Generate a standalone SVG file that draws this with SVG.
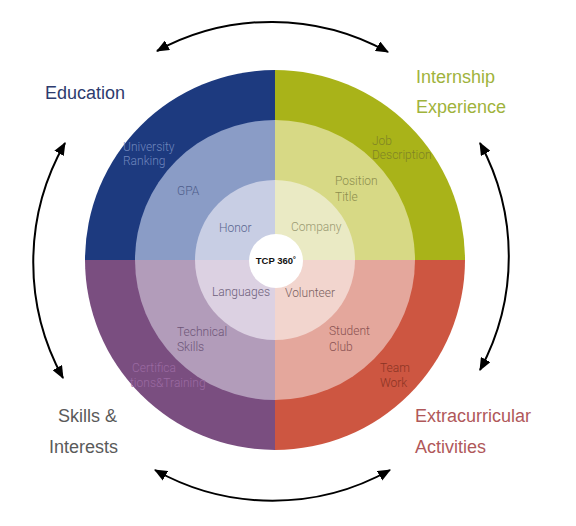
<svg xmlns="http://www.w3.org/2000/svg" width="576" height="526" viewBox="0 0 576 526">
<style>
.lbl{font-family:Roboto,"Liberation Sans",sans-serif;font-size:12px;font-weight:300}
.big{font-family:"Liberation Sans",Arial,sans-serif;font-size:18px}
.arc{fill:none;stroke:#000;stroke-width:2}
</style>
<defs>
<marker id="ah" viewBox="0 0 12 10" refX="11" refY="5" markerWidth="13" markerHeight="11" markerUnits="userSpaceOnUse" orient="auto-start-reverse">
<path d="M0,0 L12,5 L0,10 z" fill="#000"/>
</marker>
</defs>
<rect width="576" height="526" fill="#fff"/>
<g id="education">
<path d="M275,260 L85,260 A190,190 0 0 1 275,70 Z" fill="#1d3a7f"/>
<path d="M275,260 L135,260 A140,140 0 0 1 275,120 Z" fill="#8a9cc6"/>
<path d="M275,260 L195,260 A80,80 0 0 1 275,180 Z" fill="#c8cee4"/>
<text class="lbl" fill="#6f86bd"><tspan x="123" y="151">University</tspan><tspan x="123" y="165">Ranking</tspan></text>
<text class="lbl" x="177" y="195" fill="#4f5e8c">GPA</text>
<text class="lbl" x="219" y="232" fill="#5a6690">Honor</text>
<text class="big" x="45" y="99" fill="#2d3b6e">Education</text>
</g>
<g id="internship">
<path d="M275,260 L275,70 A190,190 0 0 1 465,260 Z" fill="#a9b319"/>
<path d="M275,260 L275,120 A140,140 0 0 1 415,260 Z" fill="#d7d985"/>
<path d="M275,260 L275,180 A80,80 0 0 1 355,260 Z" fill="#eaeac4"/>
<text class="lbl" fill="#7f8325"><tspan x="372" y="145">Job</tspan><tspan x="372" y="159">Description</tspan></text>
<text class="lbl" fill="#8d8e4e"><tspan x="335" y="185">Position</tspan><tspan x="335" y="201">Title</tspan></text>
<text class="lbl" x="291" y="231" fill="#9a9a72">Company</text>
<text class="big" fill="#9fb33c"><tspan x="416" y="83">Internship</tspan><tspan x="416" y="113">Experience</tspan></text>
</g>
<g id="skills">
<path d="M275,260 L275,450 A190,190 0 0 1 85,260 Z" fill="#7a4e80"/>
<path d="M275,260 L275,400 A140,140 0 0 1 135,260 Z" fill="#b29cba"/>
<path d="M275,260 L275,340 A80,80 0 0 1 195,260 Z" fill="#dcd1e2"/>
<text class="lbl" x="212" y="296" fill="#6d607a">Languages</text>
<text class="lbl" fill="#6d5578"><tspan x="177" y="336">Technical</tspan><tspan x="177" y="351">Skills</tspan></text>
<text class="lbl" fill="#9a6aa2"><tspan x="132" y="372">Certifica</tspan><tspan x="130" y="387">tions&amp;Training</tspan></text>
<text class="big" fill="#5a5a5a"><tspan x="58" y="422">Skills &amp;</tspan><tspan x="49" y="453">Interests</tspan></text>
</g>
<g id="extracurricular">
<path d="M275,260 L465,260 A190,190 0 0 1 275,450 Z" fill="#cd5641"/>
<path d="M275,260 L415,260 A140,140 0 0 1 275,400 Z" fill="#e4a79c"/>
<path d="M275,260 L355,260 A80,80 0 0 1 275,340 Z" fill="#f2d5ce"/>
<text class="lbl" x="285" y="297" fill="#7a5f5f">Volunteer</text>
<text class="lbl" fill="#8a5252"><tspan x="329" y="335">Student</tspan><tspan x="329" y="351">Club</tspan></text>
<text class="lbl" fill="#8a3424"><tspan x="380" y="372">Team</tspan><tspan x="380" y="387">Work</tspan></text>
<text class="big" fill="#b0585a"><tspan x="415" y="422">Extracurricular</tspan><tspan x="415" y="453">Activities</tspan></text>
</g>
<g id="center">
<circle cx="276" cy="261" r="27" fill="#fff"/>
<text x="276" y="264" text-anchor="middle" font-family="'Liberation Sans',Arial,sans-serif" font-size="9.5" font-weight="bold" fill="#111">TCP 360˚</text>
</g>
<g id="connectors">
<path class="arc" d="M157,51 A240,240 0 0 1 388,52" marker-start="url(#ah)" marker-end="url(#ah)"/>
<path class="arc" d="M480,143 A238,238 0 0 1 480,370" marker-start="url(#ah)" marker-end="url(#ah)"/>
<path class="arc" d="M390,470 A240,240 0 0 1 155,470" marker-start="url(#ah)" marker-end="url(#ah)"/>
<path class="arc" d="M63,378 A240,240 0 0 1 65,143" marker-start="url(#ah)" marker-end="url(#ah)"/>
</g>
</svg>
